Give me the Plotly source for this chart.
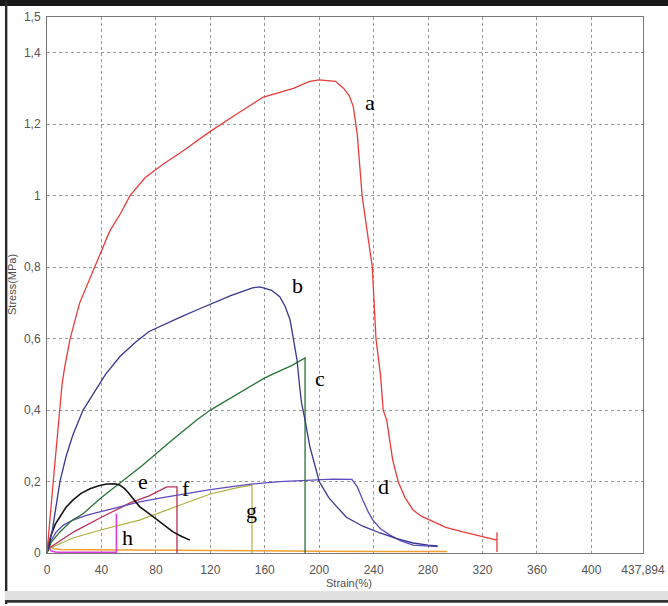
import plotly.graph_objects as go

# ---- data (strain %, stress MPa) ----
a_x = [0, 1.5, 3, 4.6, 7, 9, 11, 13, 17, 24, 35, 46, 54, 61, 72, 86, 98, 120, 140, 159, 181, 193, 200, 212, 218, 222, 225, 228, 231.5, 235, 239, 241.7, 245, 247, 249.6, 254, 258, 263, 269, 275, 281.6, 293, 305.7, 318, 328, 330.6, 330.6, 330.6]
a_y = [0, 0.056, 0.13, 0.2, 0.31, 0.4, 0.47, 0.52, 0.6, 0.7, 0.8, 0.9, 0.95, 1.0, 1.05, 1.09, 1.12, 1.18, 1.23, 1.276, 1.30, 1.32, 1.324, 1.32, 1.30, 1.28, 1.25, 1.17, 1.0, 0.9, 0.8, 0.6, 0.5, 0.4, 0.372, 0.26, 0.2, 0.155, 0.12, 0.103, 0.092, 0.072, 0.059, 0.047, 0.039, 0.036, 0.058, 0.003]

b_x = [0, 1.5, 3.6, 6, 9.5, 14, 19, 26.5, 35, 43, 53.6, 65, 75, 86, 98, 110, 122, 135, 151, 156.5, 165, 171, 175, 178.6, 181, 183.7, 185.5, 187, 189.6, 193, 200, 207, 214, 220, 232, 244.7, 257, 269, 280, 287]
b_y = [0, 0.03, 0.056, 0.12, 0.2, 0.27, 0.33, 0.4, 0.45, 0.5, 0.55, 0.59, 0.62, 0.64, 0.66, 0.68, 0.70, 0.72, 0.742, 0.745, 0.735, 0.717, 0.69, 0.652, 0.6, 0.54, 0.47, 0.42, 0.372, 0.3, 0.2, 0.155, 0.125, 0.1, 0.075, 0.056, 0.04, 0.028, 0.022, 0.02]

c_x = [0, 3, 9.5, 18, 26.5, 40, 53.6, 70, 90, 110, 120, 140, 160, 180, 189.6, 189.6]
c_y = [0, 0.03, 0.059, 0.09, 0.11, 0.155, 0.196, 0.245, 0.31, 0.372, 0.40, 0.445, 0.49, 0.525, 0.546, 0]

d_x = [0, 3, 7, 12, 19, 30, 44, 56, 68, 85, 100, 117.6, 134.5, 150, 171, 195.5, 210, 224, 228, 232, 236, 239.5, 245, 252, 260, 269, 278, 287]
d_y = [0, 0.035, 0.06, 0.078, 0.092, 0.107, 0.12, 0.132, 0.143, 0.155, 0.165, 0.176, 0.185, 0.193, 0.2, 0.205, 0.207, 0.206, 0.185, 0.148, 0.115, 0.092, 0.068, 0.05, 0.034, 0.022, 0.02, 0.018]

e_x = [0, 3, 6, 9.5, 14, 19, 25, 31.6, 38, 44, 50, 53.6, 57, 59.5, 64, 68, 75, 81, 87, 92.6, 99, 105]
e_y = [0, 0.05, 0.08, 0.10, 0.128, 0.148, 0.167, 0.18, 0.188, 0.193, 0.194, 0.19, 0.18, 0.17, 0.15, 0.13, 0.11, 0.092, 0.075, 0.059, 0.046, 0.036]

f_x = [0, 20, 40, 61, 75, 88, 95.5, 95.5]
f_y = [0.01, 0.06, 0.10, 0.14, 0.16, 0.185, 0.185, 0]

g_x = [0, 10, 19, 40, 68, 95, 120, 140, 149, 150.6, 150.6]
g_y = [0.01, 0.028, 0.042, 0.065, 0.092, 0.13, 0.165, 0.183, 0.19, 0.19, 0]

h_x = [0, 1, 3, 6, 10, 20, 30, 40, 51, 51]
h_y = [0.02, 0.015, 0.006, 0.003, 0.002, 0.002, 0.002, 0.002, 0.002, 0.11]

o_x = [0, 2, 5, 10, 30, 60, 100, 150, 162, 200, 250, 294]
o_y = [0.03, 0.02, 0.012, 0.01, 0.009, 0.008, 0.008, 0.006, 0.006, 0.005, 0.004, 0.004]

x_ticks = [0, 40, 80, 120, 160, 200, 240, 280, 320, 360, 400, 437.894]
x_tick_text = ["0", "40", "80", "120", "160", "200", "240", "280", "320", "360", "400", "437,894"]
y_ticks = [0, 0.2, 0.4, 0.6, 0.8, 1.0, 1.2, 1.4, 1.5]
y_tick_text = ["0", "0,2", "0,4", "0,6", "0,8", "1", "1,2", "1,4", "1,5"]

labels = ["a", "b", "c", "d", "e", "f", "g", "h"]
label_x = [237, 183.7, 200.6, 247, 70.5, 102, 150.6, 59.5]
label_y = [1.26, 0.75, 0.487, 0.185, 0.199, 0.18, 0.12, 0.042]

series = [
    (o_x, o_y, "rgb(240,160,50)", 1.5),
    (g_x, g_y, "rgb(175,175,60)", 1.2),
    (f_x, f_y, "rgb(185,45,85)", 1.3),
    (h_x, h_y, "rgb(220,60,220)", 1.6),
    (d_x, d_y, "rgb(95,75,190)", 1.3),
    (c_x, c_y, "rgb(40,115,55)", 1.3),
    (e_x, e_y, "rgb(20,20,20)", 1.6),
    (b_x, b_y, "rgb(55,55,145)", 1.3),
    (a_x, a_y, "rgb(232,60,60)", 1.3),
]

fig = go.Figure()
for xs, ys, col, w in series:
    fig.add_trace(go.Scatter(x=xs, y=ys, mode="lines",
                             line=dict(color=col, width=w), hoverinfo="skip"))

for t, lx, ly in zip(labels, label_x, label_y):
    fig.add_annotation(x=lx, y=ly, text=t, showarrow=False,
                       font=dict(family="Liberation Serif", size=22, color="black"))

# axis titles
fig.add_annotation(xref="paper", yref="paper", x=-0.0587, y=0.5, text="Stress(MPa)",
                   textangle=-90, showarrow=False, xanchor="center", yanchor="middle",
                   font=dict(family="Liberation Sans", size=11, color="rgb(80,80,80)"))
fig.add_annotation(xref="paper", yref="paper", x=0.5065, y=-0.0560, text="Strain(%)",
                   showarrow=False, xanchor="center", yanchor="middle",
                   font=dict(family="Liberation Sans", size=11, color="rgb(80,80,80)"))

# outer frame
shapes = [
    dict(type="rect", xref="paper", yref="paper", x0=-0.08, x1=1.05, y0=1.0205, y1=1.04,
         fillcolor="rgb(25,25,25)", line=dict(width=0), layer="above"),
    dict(type="rect", xref="paper", yref="paper", x0=-0.0705, x1=-0.0665, y0=-0.095, y1=1.03,
         fillcolor="rgb(40,40,40)", line=dict(width=0), layer="above"),
    dict(type="rect", xref="paper", yref="paper", x0=-0.0705, x1=1.05, y0=-0.0875, y1=-0.071,
         fillcolor="rgb(225,225,225)", line=dict(width=0), layer="above"),
    dict(type="rect", xref="paper", yref="paper", x0=-0.0705, x1=1.05, y0=-0.093, y1=-0.0875,
         fillcolor="rgb(50,50,50)", line=dict(width=0), layer="above"),
]

fig.update_layout(
    width=668, height=606,
    margin=dict(l=47, r=25, t=17, b=53),
    paper_bgcolor="white", plot_bgcolor="white",
    showlegend=False,
    shapes=shapes,
    font=dict(family="Liberation Sans", size=12, color="rgb(85,85,85)"),
)
fig.update_xaxes(range=[0, 437.894], tickvals=x_ticks, ticktext=x_tick_text,
                 showgrid=True, gridcolor="rgb(150,150,150)", griddash="dot", gridwidth=1,
                 showline=True, linecolor="rgb(120,120,120)", linewidth=1, mirror=True,
                 zeroline=False, ticks="", ticklabelstandoff=6, automargin=False,
                 tickfont=dict(size=12, color="rgb(85,85,85)"))
fig.update_yaxes(range=[0, 1.5], tickvals=y_ticks, ticktext=y_tick_text,
                 showgrid=True, gridcolor="rgb(150,150,150)", griddash="dot", gridwidth=1,
                 showline=True, linecolor="rgb(120,120,120)", linewidth=1, mirror=True,
                 zeroline=False, ticks="", ticklabelstandoff=3, automargin=False,
                 tickfont=dict(size=12, color="rgb(85,85,85)"))

fig.write_html("out.html")
